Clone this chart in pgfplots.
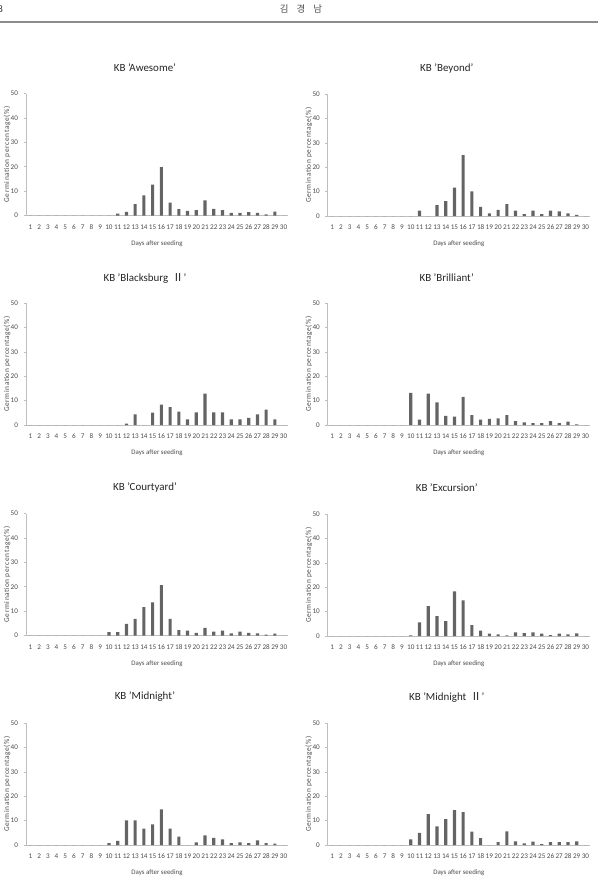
\documentclass[border=0pt]{standalone}
\usepackage{pgfplots}
\usepackage{pgfplotstable}
\pgfplotsset{compat=1.18}
\usepackage{fontspec}
\setmainfont{Carlito}
\newfontfamily\cjk{Noto Sans CJK KR}
\definecolor{barc}{RGB}{100,100,100}
\definecolor{axc}{RGB}{190,190,190}
\definecolor{txc}{RGB}{75,75,75}

\pgfplotstableread{
day aw be bl br co ex mi mii
1 0 0 0 0 0 0 0 0
2 0 0 0 0 0 0 0 0
3 0 0 0 0 0 0 0 0
4 0 0 0 0 0 0 0 0
5 0 0 0 0 0 0 0 0
6 0 0 0 0 0 0 0 0
7 0 0 0 0 0 0 0 0
8 0 0 0 0 0 0 0 0
9 0 0 0 0 0 0 0 0
10 0 0 0 13.2 1.4 0.3 0.8 2.3
11 0.8 2.2 0 2.2 1.4 5.6 1.7 5.0
12 1.5 0 0.6 12.9 4.8 12.2 10.1 12.7
13 4.7 4.5 4.4 9.3 6.8 8.2 10.1 7.6
14 8.3 6.1 0 3.7 11.6 6.1 6.7 10.6
15 12.7 11.6 5.1 3.4 13.6 18.3 8.5 14.3
16 19.8 24.9 8.4 11.5 20.6 14.6 14.6 13.5
17 5.3 10.1 7.3 4.0 6.8 4.5 6.7 5.5
18 2.6 3.7 5.5 2.2 2.2 2.2 3.4 2.8
19 1.9 1.1 2.3 2.5 2.0 1.0 0 0
20 2.2 2.5 5.2 2.7 1.1 0.7 1.1 1.2
21 6.2 4.9 12.9 4.0 3.1 0.3 4.0 5.6
22 2.7 2.2 5.2 1.6 1.6 1.5 2.9 1.5
23 2.2 0.8 5.2 1.1 2.0 1.2 2.3 0.7
24 1.1 2.2 2.3 0.8 0.9 1.5 0.8 1.4
25 1.1 0.8 2.3 0.8 1.6 1.0 1.1 0.4
26 1.4 2.2 2.9 1.6 1.1 0.4 0.8 1.2
27 1.1 1.9 4.4 0.8 0.9 1.0 1.9 1.2
28 0.5 1.1 6.3 1.4 0.4 0.7 0.8 1.2
29 1.6 0.5 2.3 0.3 0.8 1.1 0.6 1.5
30 0 0 0 0 0 0 0 0
}\germ

\pgfplotsset{
  kb/.style={
    scale only axis, width=262bp, height=122bp,
    anchor=south west,
    xmin=0.5, xmax=30.5, ymin=0, ymax=50,
    xtick={1,...,30}, ytick={0,10,...,50},
    axis x line=bottom, axis y line=left,
    axis line style={-, draw=axc, line width=0.8pt},
    x tick style={draw=none},
    y tick style={draw=axc, line width=0.6pt},
    major tick length=2.5bp, tick align=outside,
    /pgf/number format/assume math mode=true,
    tick label style={font=\fontsize{7.2}{8}\selectfont, text=txc},
    xticklabel style={yshift=-3bp},
    yticklabel style={xshift=-2bp},
    title style={at={(axis description cs:0.454,1)}, anchor=center, yshift=20bp,
      font=\fontsize{11}{12}\selectfont, text=black!85},
    xlabel={Days after seeding},
    ylabel={Germination percentage(\%)},
    every axis x label/.style={at={(axis description cs:0.5,0)}, anchor=center,
      yshift=-28bp, font=\fontsize{6.9}{8}\selectfont, text=txc},
    every axis y label/.style={at={(axis description cs:0,0.5)}, xshift=-19bp, anchor=center,
      rotate=90, font=\fontsize{7.4}{8}\selectfont\addfontfeature{LetterSpace=8}, text=txc},
    clip=false,
  },
  kbbar/.style={ybar, bar width=0.36, fill=barc, draw=none, bar shift=0pt},
}

\begin{document}
\begin{tikzpicture}
% page header
\node[font=\fontsize{10}{12}\selectfont, text=black!80] at (0.5bp,-9bp) {8};
\node[font=\cjk\fontsize{9.5}{12}\selectfont, text=black!70] at (301bp,-9bp) {김\hspace{8bp}경\hspace{8bp}남};
\draw[black!45, line width=1.3bp] (0bp,-22bp) -- (598bp,-22bp);

\begin{axis}[kb, at={(26bp,-215.5bp)}, title={KB 'Awesome'}]
\addplot[kbbar] table[x=day,y=aw]{\germ};
\end{axis}
\begin{axis}[kb, at={(327.8bp,-216bp)}, title={KB 'Beyond'}]
\addplot[kbbar] table[x=day,y=be]{\germ};
\end{axis}

\begin{axis}[kb, at={(26bp,-425bp)}, title={KB 'Blacksburg \,{\cjk Ⅱ}'}, title style={yshift=-1bp}]
\addplot[kbbar] table[x=day,y=bl]{\germ};
\end{axis}
\begin{axis}[kb, at={(327.8bp,-425bp)}, title={KB 'Brilliant'}, title style={yshift=-1bp}]
\addplot[kbbar] table[x=day,y=br]{\germ};
\end{axis}

\begin{axis}[kb, at={(26bp,-635.5bp)}, title={KB 'Courtyard'}]
\addplot[kbbar] table[x=day,y=co]{\germ};
\end{axis}
\begin{axis}[kb, at={(327.8bp,-636bp)}, title={KB 'Excursion'}]
\addplot[kbbar] table[x=day,y=ex]{\germ};
\end{axis}

\begin{axis}[kb, at={(26bp,-845bp)}, title={KB 'Midnight'}]
\addplot[kbbar] table[x=day,y=mi]{\germ};
\end{axis}
\begin{axis}[kb, at={(327.8bp,-845bp)}, title={KB 'Midnight \,{\cjk Ⅱ}'}]
\addplot[kbbar] table[x=day,y=mii]{\germ};
\end{axis}
\pgfresetboundingbox
\path[use as bounding box] (0bp,0bp) rectangle (606bp,-883bp);
\end{tikzpicture}
\end{document}
